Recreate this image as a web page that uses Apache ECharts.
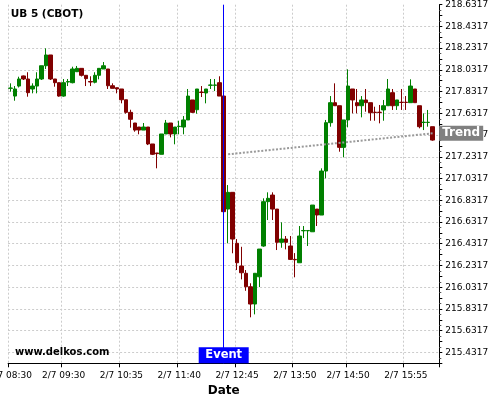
<!DOCTYPE html>
<html>
<head>
<meta charset="utf-8">
<script src="https://cdn.jsdelivr.net/npm/echarts@6/dist/echarts.min.js"></script>
<style>html,body{margin:0;padding:0;background:#fff}#c{width:500px;height:400px}</style>
</head>
<body>
<div id="c"></div>
<script>
var categories = [
 '08:30','08:35','08:40','08:45','08:50','08:55',
 '09:00','09:05','09:10','09:15','09:20','09:25','09:30','09:35','09:40','09:45','09:50','09:55',
 '10:00','10:05','10:10','10:15','10:20','10:25','10:30','10:35','10:40','10:45','10:50','10:55',
 '11:00','11:05','11:10','11:15','11:20','11:25','11:30','11:35','11:40','11:45','11:50','11:55',
 '12:00','12:05','12:10','12:15','12:20','12:25','12:30','12:35','12:40','12:45','12:50','12:55',
 '13:00','13:05','13:10','13:15','13:20','13:25','13:30','13:35','13:40','13:45','13:50','13:55',
 '14:00','14:05','14:10','14:15','14:20','14:25','14:30','14:35','14:40','14:45','14:50','14:55',
 '15:00','15:05','15:10','15:15','15:20','15:25','15:30','15:35','15:40','15:45','15:50','15:55',
 '16:00','16:05','16:10','16:15','16:20','16:25','16:30'
];
var tickTimes = ['08:30','09:30','10:35','11:40','12:45','13:50','14:50','15:55'];
var datePrefix = '2/7 ';

var openP = [
 217.862,217.791,217.883,217.976,217.948,217.856,217.883,217.948,218.070,218.169,
 217.948,217.914,217.791,217.920,217.914,218.015,218.046,217.982,217.925,217.918,
 217.982,218.040,218.040,217.886,217.868,217.856,217.757,217.641,217.543,217.506,
 217.478,217.506,217.350,217.267,217.255,217.442,217.543,217.442,217.510,217.506,
 217.571,217.755,217.665,217.828,217.819,217.890,217.890,217.914,217.791,216.751,
 216.905,216.436,216.227,216.160,216.036,215.877,216.128,216.411,216.819,216.880,
 216.751,216.445,216.475,216.411,216.288,216.257,216.551,216.551,216.542,216.751,
 216.696,217.101,217.546,217.730,217.702,217.319,217.571,217.856,217.730,217.702,
 217.755,217.730,217.642,217.642,217.663,217.702,217.822,217.702,217.734,217.734,
 217.730,217.856,217.702,217.548,217.548,217.509
];
var closeP = [
 217.865,217.856,217.948,217.948,217.822,217.883,217.948,218.070,218.169,217.948,
 217.914,217.791,217.914,217.925,218.040,218.046,217.982,217.951,217.920,217.982,
 218.046,218.070,217.886,217.862,217.856,217.757,217.641,217.577,217.478,217.478,
 217.506,217.350,217.255,217.261,217.442,217.543,217.442,217.506,217.513,217.571,
 217.791,217.641,217.856,217.824,217.856,217.893,217.893,217.791,216.727,216.905,
 216.475,216.257,216.165,216.036,215.877,216.160,216.383,216.819,216.850,216.751,
 216.445,216.475,216.445,216.288,216.284,216.503,216.554,216.554,216.788,216.696,
 217.101,217.546,217.730,217.702,217.319,217.571,217.883,217.755,217.702,217.755,
 217.730,217.638,217.640,217.640,217.702,217.856,217.702,217.755,217.732,217.732,
 217.883,217.730,217.509,217.550,217.550,217.386
];
var lowP = [
 217.831,217.748,217.870,217.939,217.785,217.816,217.816,217.939,218.040,217.939,
 217.877,217.785,217.785,217.883,217.908,218.012,217.971,217.883,217.883,217.908,
 217.945,218.040,217.856,217.862,217.816,217.724,217.629,217.500,217.463,217.439,
 217.478,217.340,217.248,217.126,217.255,217.442,217.411,217.347,217.439,217.439,
 217.571,217.635,217.629,217.782,217.724,217.856,217.837,217.791,216.727,216.436,
 216.344,216.190,216.104,215.999,215.755,215.782,216.033,216.404,216.650,216.650,
 216.374,216.395,216.380,216.282,216.123,216.257,216.484,216.411,216.542,216.595,
 216.696,217.034,217.509,217.702,217.279,217.227,217.503,217.632,217.632,217.595,
 217.647,217.564,217.564,217.540,217.564,217.702,217.663,217.663,217.663,217.663,
 217.730,217.730,217.494,217.478,217.509,217.380
];
var highP = [
 217.908,217.883,217.969,217.980,218.010,217.908,218.010,218.070,218.230,218.169,
 217.948,217.914,217.948,217.948,218.061,218.068,218.046,217.982,217.973,218.010,
 218.046,218.104,218.040,217.908,217.868,217.856,217.757,217.665,217.543,217.506,
 217.543,217.506,217.350,217.267,217.442,217.571,217.543,217.506,217.564,217.607,
 217.856,217.755,217.856,217.883,217.856,217.948,217.948,217.973,217.791,216.972,
 216.905,216.475,216.404,216.190,216.068,216.160,216.383,216.850,216.905,216.905,
 216.751,216.629,216.503,216.503,216.346,216.595,216.595,216.554,216.788,216.751,
 217.126,217.571,217.791,217.908,217.702,217.571,218.037,217.856,217.856,217.791,
 217.856,217.730,217.693,217.709,217.755,217.948,217.856,217.755,217.856,217.791,
 217.945,217.856,217.702,217.632,217.663,217.509
];
var eventTime = ['12:30'];
var trendTimes = ['12:35','16:25'];
var trendValues = [217.255, 217.448];

var yMin = 215.3317, yMax = 218.6317, yStep = 0.1;
var FONT = 'DejaVu Sans';

var candleData = openP.map(function(o, i){ return [o, closeP[i], lowP[i], highP[i]]; });
var trendData = trendTimes.map(function(t, i){ return [t, trendValues[i]]; });
function isTick(idx, val){ return tickTimes.indexOf(val) >= 0; }

var chart = echarts.init(document.getElementById('c'), null, {renderer:'canvas'});
chart.setOption({
  animation: false,
  backgroundColor: '#ffffff',
  grid: {left: 8.1, right: 60.7, top: 4.7, bottom: 36.7, containLabel: false, outerBoundsMode: 'none'},
  xAxis: {
    type: 'category', data: categories, boundaryGap: true,
    name: 'Date', nameLocation: 'middle', nameGap: 20,
    nameTextStyle: {fontFamily: FONT, fontWeight: 'bold', fontSize: 12, color: '#000'},
    axisLine: {show: true, lineStyle: {color: '#000', width: 1}},
    axisTick: {show: true, interval: isTick, length: 4, lineStyle: {color: '#000'}},
    axisLabel: {show: true, interval: isTick, fontFamily: FONT, fontSize: 9, color: '#000', margin: 8,
      formatter: function(v){ return datePrefix + v; }},
    splitLine: {show: true, interval: isTick, lineStyle: {color: '#cccccc', type: [2,2], width: 1}}
  },
  yAxis: {
    type: 'value', position: 'right', min: yMin, max: yMax, interval: yStep, scale: true,
    axisLine: {show: true, lineStyle: {color: '#000', width: 1}},
    axisTick: {show: true, length: 3, lineStyle: {color: '#000'}},
    minorTick: {show: true, splitNumber: 2, length: 2, lineStyle: {color: '#555'}},
    axisLabel: {fontFamily: FONT, fontSize: 9, color: '#000', margin: 6,
      formatter: function(v){
        var k = Math.round((v - yMin) / yStep);
        if (k % 2 === 0) return '';
        return (yMin + k * yStep).toFixed(4);
      }},
    splitLine: {show: true, showMaxLine: false, lineStyle: {color: ['rgba(0,0,0,0)', '#cccccc'], type: [2,2], width: 1}}
  },
  graphic: [
    {type: 'text', left: 10.7, top: 9, z: 10, style: {text: 'UB 5 (CBOT)', fontFamily: FONT, fontWeight: 'bold', fontSize: 10.5, fill: '#000'}},
    {type: 'text', left: 15, top: 347.5, z: 10, style: {text: 'www.delkos.com', fontFamily: FONT, fontWeight: 'bold', fontSize: 10, fill: '#000'}}
  ],
  series: [
    {
      type: 'candlestick', data: candleData, barWidth: 4,
      itemStyle: {color: '#008000', color0: '#800000', borderColor: '#008000', borderColor0: '#800000', borderWidth: 1},
      markLine: {
        silent: true, symbol: 'none', animation: false,
        label: {show: false},
        lineStyle: {color: '#0000ff', width: 1, type: 'solid'},
        data: [{xAxis: eventTime[0]}]
      },
      markPoint: {
        silent: true, animation: false,
        data: [{coord: [eventTime[0], yMin], symbol: 'rect', symbolSize: [50, 16], symbolOffset: [0, -8],
          itemStyle: {color: '#0000ff'},
          label: {show: true, position: 'inside', formatter: 'Event', color: '#fff', fontFamily: FONT, fontWeight: 'bold', fontSize: 11.5}}]
      }
    },
    {
      type: 'line', data: trendData, symbol: 'none', z: 5,
      lineStyle: {color: '#9a9a9a', width: 2, type: [2, 1.7]},
      endLabel: {show: true, formatter: 'Trend', color: '#fff', backgroundColor: '#808080', fontFamily: FONT, fontWeight: 'bold', fontSize: 12, padding: [2, 3, 1, 3], distance: 6.5}
    }
  ]
});
</script>
</body>
</html>
